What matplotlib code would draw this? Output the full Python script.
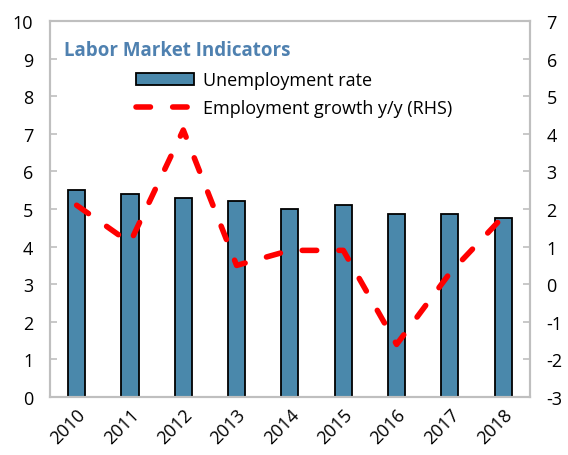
import numpy as np
import matplotlib.pyplot as plt
from matplotlib.lines import Line2D
from matplotlib.patches import Patch

plt.rcParams['font.family'] = ['Open Sans', 'DejaVu Sans']
plt.rcParams['axes.unicode_minus'] = False

years = ['2010', '2011', '2012', '2013', '2014', '2015', '2016', '2017', '2018']
unemp = [5.5, 5.4, 5.3, 5.2, 5.0, 5.1, 4.87, 4.87, 4.77]
emp_growth = [2.1, 1.1, 4.1, 0.5, 0.9, 0.9, -1.6, 0.3, 1.8]

bar_color = '#4a88ab'
grey = '#bfbfbf'
dash = (2.6, 4.0)

fig = plt.figure(figsize=(5.68, 4.56), dpi=100)
ax = fig.add_axes([0.088, 0.127, 0.845, 0.825])
x = np.arange(len(years))
ax.bar(x, unemp, width=0.32, color=bar_color, edgecolor='black', linewidth=1.3, zorder=2)
ax.set_ylim(0, 10)
ax.set_xlim(-0.5, len(years) - 0.5)
ax.set_yticks(range(0, 11))
ax.set_xticks(x)
ax.set_xticklabels(years, rotation=45, ha='right', rotation_mode='anchor')

ax2 = ax.twinx()
ax2.plot(x, emp_growth, color='#ff0000', linewidth=4, dashes=dash,
         dash_capstyle='round', zorder=3)
ax2.set_ylim(-3, 7)
ax2.set_yticks(range(-3, 8))

for a in (ax, ax2):
    for s in a.spines.values():
        s.set_color(grey)
        s.set_linewidth(1.5)
    a.tick_params(labelsize=13, color=grey, length=5, width=1.2, direction='in')
ax.tick_params(axis='x', length=0, pad=6)
ax.tick_params(axis='y', pad=12)
ax2.tick_params(axis='y', pad=12)

ax.text(0.03, 0.95, 'Labor Market Indicators', transform=ax.transAxes,
        fontsize=13.5, fontweight='bold', color='#4f81b0', va='top')

handles = [Patch(facecolor=bar_color, edgecolor='black', linewidth=1.3),
           Line2D([0], [0], color='#ff0000', linewidth=4, dashes=dash,
                  dash_capstyle='round')]
ax.legend(handles, ['Unemployment rate', 'Employment growth y/y (RHS)'],
          loc='upper left', bbox_to_anchor=(0.165, 0.885), frameon=False,
          fontsize=13, handlelength=3.2, handleheight=0.6, handletextpad=0.5,
          labelspacing=0.55, borderaxespad=0)

fig.savefig('out.png', dpi=100)
